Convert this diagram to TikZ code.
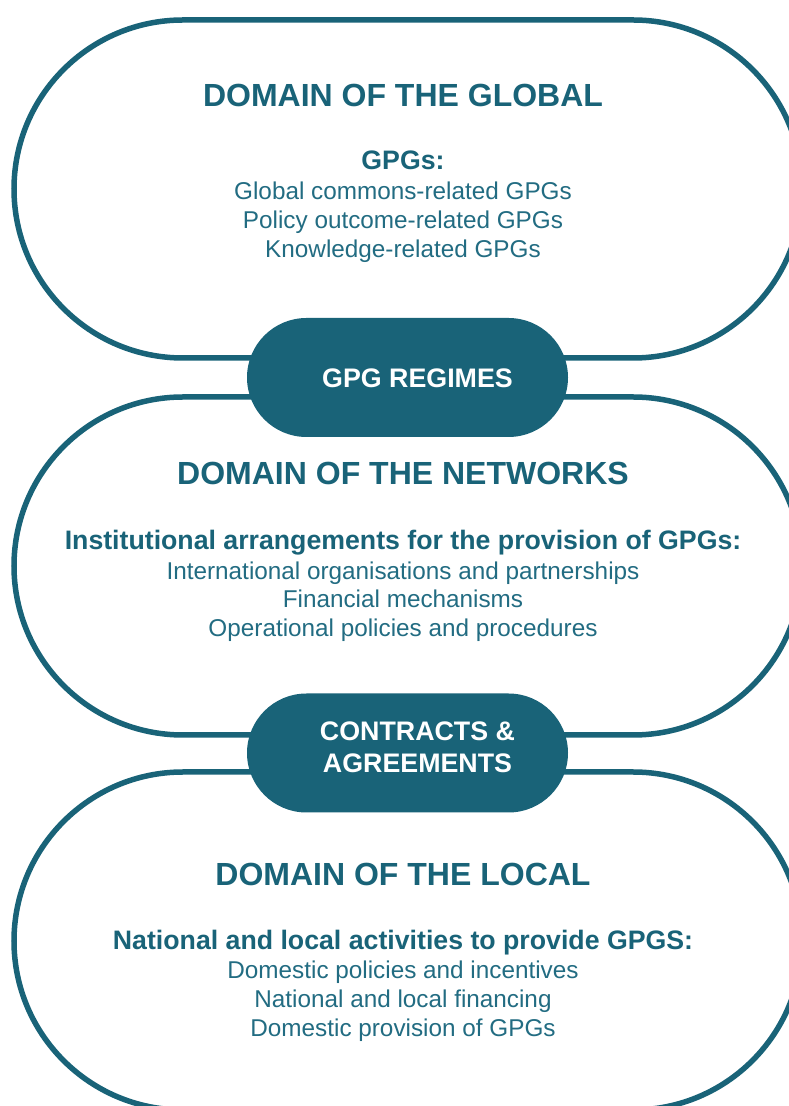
\documentclass[tikz,border=0pt]{standalone}
\usepackage{fontspec}
\setmainfont{Liberation Sans}
\usetikzlibrary{shapes.misc}
\definecolor{teal}{RGB}{25,99,120}
\definecolor{tealtext}{RGB}{34,108,130}
\begin{document}
\begin{tikzpicture}[x=1pt,y=1pt,
  domainbox/.style={rounded rectangle, draw=teal, line width=5.5pt,
    minimum width=788pt, minimum height=338pt, inner sep=0pt, fill=white},
  linkpill/.style={rounded rectangle, fill=teal, draw=none,
    minimum width=321pt, minimum height=119pt, inner sep=0pt},
  pilltext/.style={anchor=base, text=white, font=\fontsize{26.8}{31}\selectfont\bfseries},
  titletext/.style={anchor=base, text=teal, font=\fontsize{32}{36}\selectfont\bfseries},
  headtext/.style={anchor=base, text=teal, font=\fontsize{26.7}{31}\selectfont\bfseries},
  itemtext/.style={anchor=base, text=tealtext, font=\fontsize{24.3}{29}\selectfont}]
\useasboundingbox (0,0) rectangle (789,1106);
\clip (0,0) rectangle (789,1106);

% three domains
\node[domainbox] (global) at (408,917) {};
\node[domainbox] (networks) at (408,540) {};
\node[domainbox] (local) at (408,165) {};

% links between domains
\node[linkpill] (regimes) at (407.5,728.5) {};
\node[linkpill] (contracts) at (407.5,353) {};
\node[pilltext] (regimesT) at (417.5,718) {GPG REGIMES};
\node[pilltext] (contractsA) at (417.5,365) {CONTRACTS \&};
\node[pilltext] (contractsB) at (417.5,333) {AGREEMENTS};

% domain of the global
\node[titletext] (gT) at (403,999) {DOMAIN OF THE GLOBAL};
\node[headtext] (gH) at (403,936) {GPGs:};
\node[itemtext] (g1) at (403,906) {Global commons-related GPGs};
\node[itemtext] (g2) at (403,877) {Policy outcome-related GPGs};
\node[itemtext] (g3) at (403,848) {Knowledge-related GPGs};

% domain of the networks
\node[titletext] (nT) at (403,621) {DOMAIN OF THE NETWORKS};
\node[headtext] (nH) at (403,556) {Institutional arrangements for the provision of GPGs:};
\node[itemtext] (n1) at (403,526) {International organisations and partnerships};
\node[itemtext] (n2) at (403,498) {Financial mechanisms};
\node[itemtext] (n3) at (403,469) {Operational policies and procedures};

% domain of the local
\node[titletext] (lT) at (403,220) {DOMAIN OF THE LOCAL};
\node[headtext] (lH) at (403,156) {National and local activities to provide GPGS:};
\node[itemtext] (l1) at (403,127) {Domestic policies and incentives};
\node[itemtext] (l2) at (403,98) {National and local financing};
\node[itemtext] (l3) at (403,69) {Domestic provision of GPGs};
\end{tikzpicture}
\end{document}
